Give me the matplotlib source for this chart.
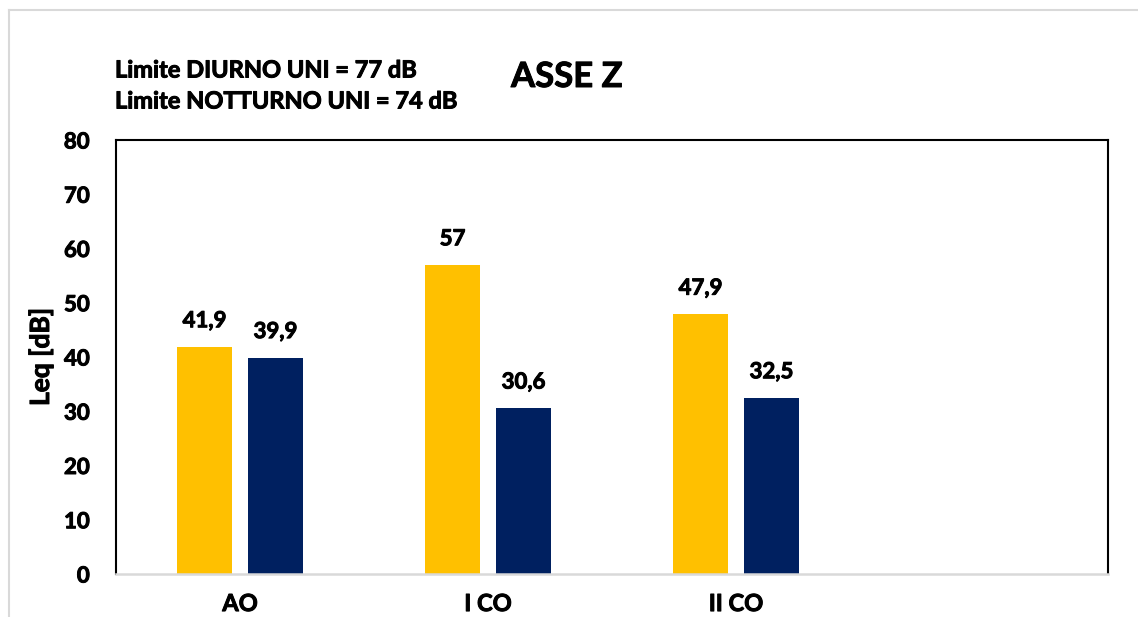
import matplotlib
matplotlib.use("Agg")
import matplotlib.pyplot as plt
import matplotlib.patheffects as pe
from matplotlib.lines import Line2D
import numpy as np

# Leq per measurement position, ASSE Z
categories = ["AO", "I CO", "II CO", ""]
diurno = [41.9, 57.0, 47.9, None]
notturno = [39.9, 30.6, 32.5, None]
value_labels_diurno = ["41,9", "57", "47,9"]
value_labels_notturno = ["39,9", "30,6", "32,5"]
y_ticks = [0, 10, 20, 30, 40, 50, 60, 70, 80]

YELLOW = "#FFC000"
NAVY = "#002060"

plt.rcParams["font.family"] = ["Lato", "DejaVu Sans"]
plt.rcParams["font.weight"] = "bold"

# slightly heavier strokes for all text
heavy = [pe.withStroke(linewidth=0.7, foreground="black")]

fig = plt.figure(figsize=(11.38, 6.17), dpi=100)
ax = fig.add_axes([116 / 1138, 43 / 617, 992 / 1138, 434 / 617])

x = np.arange(len(categories))
w = 0.225
off = 0.143

for i in range(len(categories)):
    if diurno[i] is None:
        continue
    ax.bar(x[i] - off, diurno[i], width=w, color=YELLOW)
    ax.bar(x[i] + off, notturno[i], width=w, color=NAVY)
    for xv, yv, txt in ((x[i] - off, diurno[i], value_labels_diurno[i]),
                        (x[i] + off, notturno[i], value_labels_notturno[i])):
        ax.annotate(txt, (xv, yv), xytext=(0, 14), textcoords="offset points",
                    ha="center", va="baseline", fontsize=16, fontweight="bold",
                    path_effects=heavy)

ax.set_xlim(-0.5, len(categories) - 0.5)
ax.set_ylim(0, 80)
ax.set_yticks(y_ticks)
ax.set_xticks(x)
ax.set_xticklabels(categories)
ax.tick_params(axis="y", length=0, pad=19, labelsize=16)
ax.tick_params(axis="x", length=0, pad=13, labelsize=17)
for lbl in ax.get_xticklabels() + ax.get_yticklabels():
    lbl.set_fontweight("bold")
    lbl.set_path_effects(heavy)

for side in ("left", "top", "right"):
    ax.spines[side].set_color("black")
    ax.spines[side].set_linewidth(1.5)
ax.spines["bottom"].set_color("#d9d9d9")
ax.spines["bottom"].set_linewidth(1.8)

ax.set_ylabel("Leq [dB]", fontsize=19, fontweight="bold", path_effects=heavy)
ax.yaxis.set_label_coords(-63 / 992, 0.5)

fig.text(567 / 1138, 1 - 77 / 617, "ASSE Z", ha="center", va="center",
         fontsize=25, fontweight="bold", path_effects=heavy)
fig.text(115 / 1138, 1 - 70 / 617, "Limite DIURNO UNI = 77 dB", ha="left",
         va="center", fontsize=17, fontweight="bold", path_effects=heavy)
fig.text(115 / 1138, 1 - 101 / 617, "Limite NOTTURNO UNI = 74 dB", ha="left",
         va="center", fontsize=17, fontweight="bold", path_effects=heavy)

# light chart-area border on left and top
fig.add_artist(Line2D([9 / 1138, 9 / 1138], [0, 1 - 10 / 617],
                      transform=fig.transFigure, color="#d9d9d9", lw=1.5))
fig.add_artist(Line2D([9 / 1138, 1], [1 - 10 / 617, 1 - 10 / 617],
                      transform=fig.transFigure, color="#d9d9d9", lw=1.5))

fig.savefig("out.png", dpi=100)
